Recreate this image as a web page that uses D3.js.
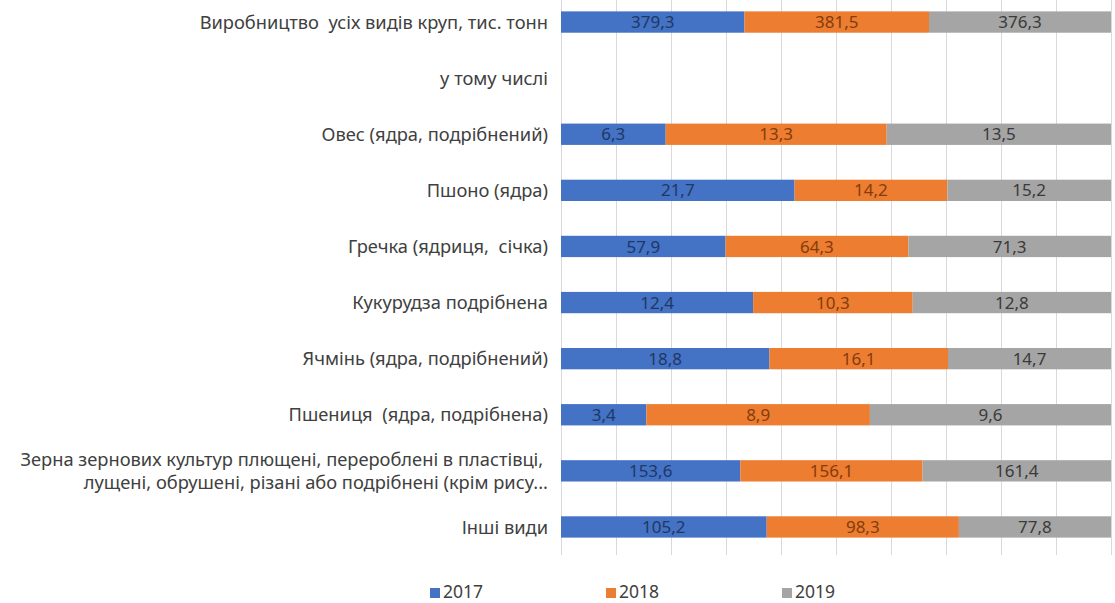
<!DOCTYPE html>
<html>
<head>
<meta charset="utf-8">
<script src="https://cdn.jsdelivr.net/npm/d3@7"></script>
<style>
  html, body { margin: 0; padding: 0; background: #fff; }
  svg text { white-space: pre; }
</style>
</head>
<body>
<svg id="chart" width="1115" height="603"></svg>
<script>
const categories = [
  ["Виробництво  усіх видів круп, тис. тонн"],
  ["у тому числі"],
  ["Овес (ядра, подрібнений)"],
  ["Пшоно (ядра)"],
  ["Гречка (ядриця,  січка)"],
  ["Кукурудза подрібнена"],
  ["Ячмінь (ядра, подрібнений)"],
  ["Пшениця  (ядра, подрібнена)"],
  ["Зерна зернових культур плющені, перероблені в пластівці, ", "лущені, обрушені, різані або подрібнені (крім рису..."],
  ["Інші види"]
];
const seriesNames = ["2017", "2018", "2019"];
const values2017 = [379.3, null, 6.3, 21.7, 57.9, 12.4, 18.8, 3.4, 153.6, 105.2];
const values2018 = [381.5, null, 13.3, 14.2, 64.3, 10.3, 16.1, 8.9, 156.1, 98.3];
const values2019 = [376.3, null, 13.5, 15.2, 71.3, 12.8, 14.7, 9.6, 161.4, 77.8];
const xTicks = [0, 0.1, 0.2, 0.3, 0.4, 0.5, 0.6, 0.7, 0.8, 0.9, 1.0];

const colors = ["#4472C4", "#ED7D31", "#A5A5A5"];
const labelColors = ["#1F3864", "#843C0C", "#3A3A3A"];
const FONT = "'Noto Sans', 'Open Sans', sans-serif";

const svg = d3.select("#chart");
const plotLeft = 561, plotRight = 1111, plotTop = -6, plotBottom = 555;

const x = d3.scaleLinear().domain([0, 1]).range([plotLeft, plotRight]);
const y = d3.scaleBand().domain(d3.range(categories.length)).range([plotTop, plotBottom]).paddingInner(0.62).paddingOuter(0.31);

// gridlines
svg.append("g").selectAll("line").data(xTicks).join("line")
  .attr("x1", d => Math.round(x(d)) + 0.5).attr("x2", d => Math.round(x(d)) + 0.5)
  .attr("y1", 0).attr("y2", plotBottom)
  .attr("stroke", "#D9D9D9").attr("stroke-width", 1);

const allSeries = [values2017, values2018, values2019];
const rows = categories.map((c, i) => {
  const vals = allSeries.map(s => s[i]);
  const total = d3.sum(vals.map(v => v || 0));
  let acc = 0;
  const segs = vals.map((v, k) => {
    if (v == null || total === 0) return null;
    const s = { k, v, x0: acc / total, x1: (acc + v) / total };
    acc += v;
    return s;
  }).filter(d => d);
  return { i, segs };
});

const g = svg.append("g");
rows.forEach(r => {
  r.segs.forEach(s => {
    g.append("rect")
      .attr("x", x(s.x0)).attr("y", y(r.i))
      .attr("width", x(s.x1) - x(s.x0)).attr("height", y.bandwidth())
      .attr("fill", colors[s.k]);
    g.append("text")
      .attr("x", (x(s.x0) + x(s.x1)) / 2)
      .attr("y", y(r.i) + y.bandwidth() / 2)
      .attr("dy", "0.36em")
      .attr("text-anchor", "middle")
      .attr("font-family", FONT)
      .attr("font-size", 17)
      .attr("fill", labelColors[s.k])
      .text(d3.format(".1f")(s.v).replace(".", ","));
  });
});

// category labels
const lab = svg.append("g");
categories.forEach((lines, i) => {
  const cy = y(i) + y.bandwidth() / 2;
  const n = lines.length;
  lines.forEach((t, j) => {
    lab.append("text")
      .attr("x", 548)
      .attr("y", cy + (j - (n - 1) / 2) * 23.5)
      .attr("dy", "0.36em")
      .attr("text-anchor", "end")
      .attr("font-family", FONT)
      .attr("font-size", 18.3)
      .attr("fill", "#404040")
      .text(t);
  });
});

// legend
const legendX = [430, 606, 782];
const lg = svg.append("g");
seriesNames.forEach((s, k) => {
  lg.append("rect").attr("x", legendX[k]).attr("y", 588).attr("width", 10).attr("height", 10).attr("fill", colors[k]);
  lg.append("text").attr("x", legendX[k] + 13).attr("y", 592).attr("dy", "0.36em")
    .attr("font-family", FONT)
    .attr("font-size", 17.5).attr("fill", "#404040").text(s);
});
</script>
</body>
</html>
